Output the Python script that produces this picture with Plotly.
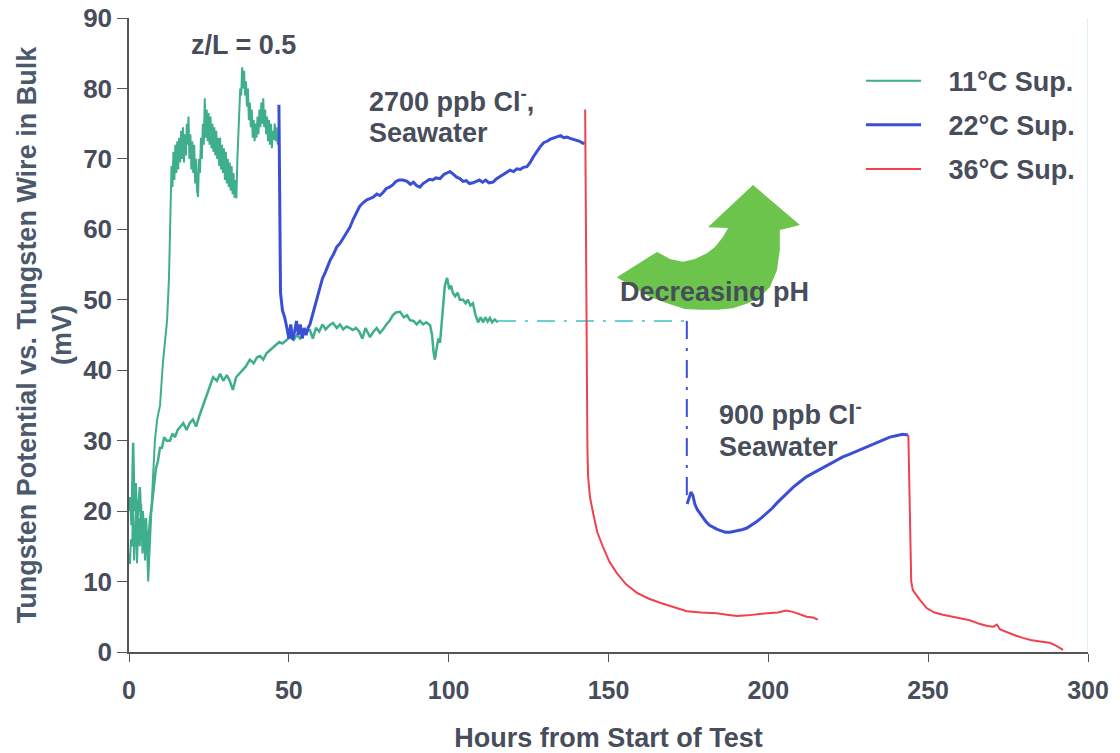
import plotly.graph_objects as go

# ---------------- data ----------------
# 11 °C run, first part (fast rise, noisy)
g1_x = [0, 0.3, 0.6, 1, 1.3, 1.6, 2, 2.3, 2.5, 2.8, 3, 3.4, 3.8, 4.2, 4.6, 5, 5.5, 6, 6.4, 6.8,
        7.2, 7.5, 8.1, 8.8, 9.7, 10.6, 11.3, 11.9, 12.5,
        13.0, 13.3, 13.6, 13.9, 14.2, 14.5, 14.8, 15.1, 15.4, 15.7, 16.0, 16.3, 16.6, 16.9, 17.2,
        17.5, 17.8, 18.1, 18.4, 18.6, 18.9, 19.2, 19.5, 19.8, 20.1, 20.4, 20.7, 21.0, 21.3, 21.6,
        21.9, 22.2, 22.5, 22.8, 23.1, 23.4, 23.7, 24.0, 24.3, 24.6, 24.9, 25.2, 25.5, 25.8, 26.1,
        26.4, 26.7, 27.0, 27.3, 27.6, 27.9, 28.2, 28.5, 28.8, 29.1, 29.4, 29.7, 30.0, 30.3, 30.6,
        30.9, 31.2, 31.5, 31.8, 32.1, 32.4, 32.7, 33.0, 33.3, 33.6, 33.9, 34.2, 34.5, 34.8, 35.1,
        35.4, 35.7, 36.0, 36.3, 36.6, 36.9, 37.2, 37.5, 37.8, 38.1, 38.4, 38.7, 39.0, 39.3, 39.6,
        39.9, 40.2, 40.5, 40.8, 41.1, 41.4, 41.7, 42.0, 42.3, 42.6, 42.9, 43.2, 43.5, 43.8, 44.1,
        44.4, 44.7, 45.0, 45.3, 45.6, 45.9, 46.2, 46.5, 46.8]
g1_y = [14, 12.5, 16, 15, 22, 13, 17, 21, 12.6, 18, 19, 15, 21, 14, 18, 13, 17, 10, 15, 18,
        22, 25, 30, 33, 35, 41, 44, 47, 53,
        62, 69, 66, 71, 67, 72, 68, 72.5, 68.5, 73, 69.5, 74, 70, 74.5, 69.5,
        73.5, 70.5, 75, 72, 76, 70, 73.5, 68.5, 72.5, 68, 72, 66.5, 70, 65.5, 64.6,
        70, 68, 73, 70, 75, 72, 78.6, 73, 77, 72.5, 76.5, 72, 76, 71.5, 75,
        71, 74.5, 70.5, 74, 70, 73, 69, 73, 68.5, 72, 68, 71.5, 67, 71, 66.5,
        70, 66, 69.5, 65.5, 69, 65, 68, 64.5, 67, 64.4, 70, 74, 77, 80, 79,
        83, 80, 82.5, 79, 81, 77.4, 80, 75.5, 78, 74.5, 77, 73, 75.5, 72.5, 75,
        73, 76, 73.5, 77, 74.5, 78, 75, 78.6, 74.5, 77, 73.5, 76, 72.5, 75.5, 72,
        75, 71.5, 74, 72.7, 75, 72.5, 74.5, 72, 74]

# 11 °C run, second part (slow rise)
g2_x = [0, 0.4, 0.8, 1.3, 1.7, 2.1, 2.5, 3, 3.4, 3.8, 4.3, 4.8, 5.3, 5.8, 6.2, 6.6, 7.2, 7.8, 8.4,
        9.0, 9.7, 10.3, 11, 11.8, 12.8, 13.6, 14.4, 15.2, 16, 17, 18, 19, 20, 21, 22, 23, 24, 25,
        26.3, 27.5, 28.5, 29.5, 30.6, 31.5, 32.5, 33.5, 34.5, 35.5, 36.5, 37.8, 39, 40, 41, 42, 43,
        44, 45, 46, 47, 48, 49, 50.4, 51.5, 52.5, 53.5, 55, 56.6, 57.5, 58.5, 59.5, 60.5, 61.5,
        62.5, 63.8, 65, 66, 67, 68, 69, 70, 71, 72, 73, 74, 75.4, 76.5, 77.5, 78.5, 79.5, 80.5,
        81.5, 82.5, 83.5, 84.8, 86, 87, 87.9, 89, 90, 91, 92, 93, 94.2, 94.8, 95.3, 95.7, 96.2,
        96.8, 97.3, 97.8, 98.3, 98.8, 99.5, 100.2, 100.8, 101.3, 102, 102.8, 103.5, 104.5, 105.3,
        106, 106.8, 107.6, 108.3, 109.2, 110, 110.8, 111.5, 112.2, 112.9, 113.6, 114.4, 115.4]
g2_y = [20, 22, 18, 29.7, 20, 24, 18, 21, 23.4, 18, 20, 16, 19, 14, 17, 19, 21, 24, 26,
        27, 29, 29, 30.5, 30, 30, 31, 30.5, 31.5, 32, 32.5, 31.5, 32.5, 33, 32, 33.5, 34.8, 36, 37.5,
        39, 38.5, 39.5, 38.5, 39.3, 38.5, 37.2, 39, 39.5, 40, 40.5, 41.5, 41, 41.8, 42, 41.5, 42.4,
        42.8, 43.2, 43.5, 44, 43.8, 44.2, 44.7, 44.3, 45, 44.5, 45.5, 45.7, 44.5, 46, 45.5, 46.5, 45.8,
        46.3, 46.7, 46, 46.5, 45.8, 46.2, 46, 45.7, 46, 45.5, 44.5, 46, 44.7, 45.5, 46, 45.3, 45.8, 46.5,
        47, 47.8, 48.2, 48.3, 47.5, 47.8, 47.1, 47, 46.5, 47, 46.5, 46.8, 46.4, 45, 42.5, 41.5, 43,
        44.5, 43.9, 47, 50, 52, 53.1, 51.5, 52, 51, 50.5, 51, 50, 50, 49.5,
        50, 49.2, 49.5, 48, 46.8, 47.5, 46.8, 47.5, 46.9, 47.4, 46.8, 47.2, 46.8]

# 11 °C gap (dash-dot)
g_gap_x = [115.4, 174.5]
g_gap_y = [47, 47]

# 22 °C, 2700 ppb Cl- seawater
b1_x = [46.9, 47.0, 47.2, 47.4, 48, 48.7, 49.4, 50, 50.6, 51.2, 51.8, 52.4, 53, 53.6, 54.2, 54.8,
        55.4, 56, 56.6, 57.2, 57.8, 58.5, 59.7, 60.5, 61.5, 62.9, 64, 65, 66, 67, 68, 69.1, 70.2,
        71.2, 72.2, 73.3, 74.4, 75.5, 76.5, 77.5, 78.5, 79.4, 80.5, 81.5, 82.5, 83.5, 84.5, 85.7,
        87, 88, 89, 90, 91, 92, 93, 94, 95, 96, 97.3, 98.5, 99.5, 100.4, 101.5, 102.5, 103.5, 104.5,
        105.5, 106.5, 107.6, 108.6, 109.6, 110.6, 111.6, 112.6, 113.9, 115, 116, 117, 118, 119.2,
        120.3, 121.3, 122.4, 123.4, 124.5, 125.5, 126.5, 127.5, 128.6, 129.7, 130.8, 131.8, 132.9,
        133.9, 135, 136, 137, 138, 139, 140, 141, 142, 142.6]
b1_y = [77.7, 70, 58, 51, 48.5, 47.5, 46, 44.5, 46.5, 44.3, 45.5, 47, 45, 46.5, 44.5, 46,
        45, 46, 46.5, 47.5, 48.5, 50, 51.8, 53, 54, 55.6, 56.5, 57.5, 58, 58.8, 59.5, 60.3, 61.5,
        62.5, 63.3, 63.8, 64.2, 64.4, 64.6, 65, 64.8, 65.2, 65.8, 66, 66.3, 66.8, 67, 67,
        66.8, 66.4, 66.7, 66.2, 66, 66.5, 66.8, 67.1, 67, 67.3, 67.2, 67.8, 68, 68.2, 67.8, 67.4, 67.2, 66.8,
        66.9, 66.5, 66.6, 66.8, 67, 66.7, 67, 66.6, 66.7, 67.2, 67.5, 67.8, 68, 68.4,
        68.2, 68.6, 68.5, 68.8, 68.9, 69.5, 70.3, 71, 71.7, 72.3, 72.5, 72.8, 73,
        73.1, 73.3, 73, 73.1, 72.9, 72.8, 72.6, 72.5, 72.2, 72.3]

# 22 °C gap (dash-dot)
b_gap_x = [174.5, 174.5]
b_gap_y = [47, 22]

# 22 °C, 900 ppb Cl- seawater
b2_x = [174.6, 175.2, 175.8, 176.4, 177, 177.8, 178.6, 179.5, 180.5, 181.6, 182.7, 184, 185.3,
        186.6, 188, 189.3, 190.6, 192, 193.3, 194.8, 196.3, 198, 199.6, 201.2, 202.8, 204.3, 205.8,
        207.8, 210, 212, 214, 216.5, 219, 221, 223.3, 225.5, 228, 230.8, 233, 235.5, 238, 240, 242,
        243.7]
b2_y = [21, 22, 22.7, 22.2, 21, 20.2, 19.7, 19, 18.5, 18, 17.7, 17.4, 17.2,
        17, 17, 17.1, 17.2, 17.4, 17.6, 18, 18.5, 19.1, 19.7, 20.4, 21.2, 21.9, 22.6,
        23.4, 24.2, 24.9, 25.4, 26, 26.6, 27.1, 27.7, 28.1, 28.6, 29.1, 29.5, 30, 30.5, 30.7, 30.9,
        30.8]

# 36 °C runs
r1_x = [142.7, 142.9, 143.0, 143.2, 143.4, 143.6, 144.2, 145.2, 146.5, 148.3, 150.3, 152.6, 155.5,
        158.9, 162.5, 166.1, 170, 174.5, 179, 183.9, 187, 190.2, 193.5, 196.5, 199.6, 203, 205.5,
        207.7, 210, 212, 214, 215.5]
r1_y = [77, 60, 45, 35, 29, 25, 22, 19.7, 17, 14.9, 12.8, 11.2, 9.6,
        8.4, 7.6, 7, 6.4, 5.8, 5.6, 5.5, 5.3, 5.1, 5.2, 5.4, 5.5, 5.6, 5.9,
        5.7, 5.3, 5.0, 4.9, 4.6]
r2_x = [243.8, 244.1, 244.4, 244.7, 245.2, 247.4, 249.6, 252, 254.6, 258, 261, 263, 266, 268.5,
        270.5, 271.5, 272.5, 275, 277.5, 279.6, 282, 285, 288, 290, 292.2]
r2_y = [30.8, 25, 15, 10, 8.8, 7.4, 6.2, 5.6, 5.3, 5.0, 4.7, 4.5, 4.0, 3.7,
        3.6, 3.9, 3.2, 2.7, 2.3, 2.0, 1.7, 1.5, 1.3, 0.9, 0.3]

series_names = ["11°C Sup.", "22°C Sup.", "36°C Sup."]
x_ticks = [0, 50, 100, 150, 200, 250, 300]
y_ticks = [0, 10, 20, 30, 40, 50, 60, 70, 80, 90]

# decorative curved arrow outline (hours, mV)
arrow_x = [152.6, 157.6, 163.0, 168.3, 173.9, 178.6, 184.2, 188.9, 193.6, 197.4, 200.5, 202.7, 203.6,
           203.6, 209.9, 195.2, 181.1, 187.4, 185.8, 183.3, 180.8, 177.0, 173.3, 169.2, 165.2]
arrow_y = [53.2, 51.8, 50.4, 49.5, 48.7, 48.6, 48.6, 48.8, 49.5, 50.4, 51.8, 54.2, 57.1,
           59.9, 60.6, 66.3, 60.3, 60.2, 58.9, 57.5, 56.6, 55.8, 55.4, 55.8, 56.8]

# ---------------- styling ----------------
GREEN = "#3fae8c"
GREEN_GAP = "#6cd0d0"
BLUE = "#3a4fd6"
RED = "#f2404e"
TXT = "#474d5a"
FONT = "Liberation Sans, Arial, sans-serif"
PAD = "\u00a0\u00a0\u00a0"

fig = go.Figure()

def add(x, y, color, width, name=None, show=False, dash=None, group=None):
    fig.add_trace(go.Scatter(
        x=x, y=y, mode="lines", name=(PAD + name) if name else "", showlegend=show,
        legendgroup=group, hoverinfo="skip",
        line=dict(color=color, width=width, dash=dash)))

add(g_gap_x, g_gap_y, GREEN_GAP, 2, dash="18px,9px,3px,9px")
add(b_gap_x, b_gap_y, BLUE, 2, dash="18px,9px,3px,9px")
add(g1_x, g1_y, GREEN, 2, series_names[0], True, group="g")
add(g2_x, g2_y, GREEN, 2.5, group="g")
add(b1_x, b1_y, BLUE, 3, series_names[1], True, group="b")
add(b2_x, b2_y, BLUE, 3, group="b")
add(r1_x, r1_y, RED, 2, series_names[2], True, group="r")
add(r2_x, r2_y, RED, 2, group="r")

path = "M " + " L ".join(f"{a},{b}" for a, b in zip(arrow_x, arrow_y)) + " Z"
fig.add_shape(type="path", path=path, xref="x", yref="y",
              fillcolor="#6cc44c", line=dict(width=0), layer="below")
fig.add_shape(type="line", xref="x", yref="paper", x0=300, x1=300, y0=0, y1=1,
              line=dict(color="#d3ecef", width=1.5), layer="below")

ann_font = dict(family=FONT, size=27, color=TXT, weight="bold")
def note(text, x, y, xanchor="left"):
    fig.add_annotation(x=x, y=y, xref="x", yref="y", text=text, showarrow=False,
                       xanchor=xanchor, yanchor="middle", font=ann_font)

note("z/L = 0.5", 35.7, 86.2, "center")
note("2700 ppb Cl<sup>-</sup>,", 74.3, 78.4)
note("Seawater", 74.3, 73.7)
note("Decreasing pH", 183.3, 51.1, "center")
note("900 ppb Cl<sup>-</sup>", 183.8, 33.9)
note("Seawater", 183.8, 29.1)

fig.update_layout(
    width=1120, height=753,
    margin=dict(l=129, r=32, t=18, b=101),
    paper_bgcolor="white", plot_bgcolor="white",
    font=dict(family=FONT, color=TXT),
    xaxis=dict(
        range=[0, 300], tickvals=x_ticks, showgrid=False, zeroline=False, automargin=False,
        showline=True, linecolor="#555555", linewidth=1.5,
        ticks="outside", ticklen=8, tickcolor="#555555", ticklabelstandoff=7,
        tickfont=dict(family=FONT, size=25, color=TXT, weight="bold"),
        title=dict(text="Hours from Start of Test", standoff=26,
                   font=dict(family=FONT, size=27, color=TXT, weight="bold")),
    ),
    yaxis=dict(
        range=[0, 90], tickvals=y_ticks, showgrid=False, zeroline=False, automargin=False,
        showline=True, linecolor="#555555", linewidth=1.5,
        ticks="outside", ticklen=10, tickcolor="#555555",
        tickfont=dict(family=FONT, size=26, color=TXT, weight="bold"),
        title=dict(text="Tungsten Potential vs. Tungsten Wire in Bulk<br>(mV)", standoff=4,
                   font=dict(family=FONT, size=27, color="#4b596c", weight="bold")),
    ),
    legend=dict(
        x=0.7633, y=0.939, xanchor="left", yanchor="top",
        bgcolor="rgba(0,0,0,0)", itemwidth=55, tracegroupgap=6,
        font=dict(family=FONT, size=27, color=TXT, weight="bold"),
    ),
)

fig.write_html("out.html")
